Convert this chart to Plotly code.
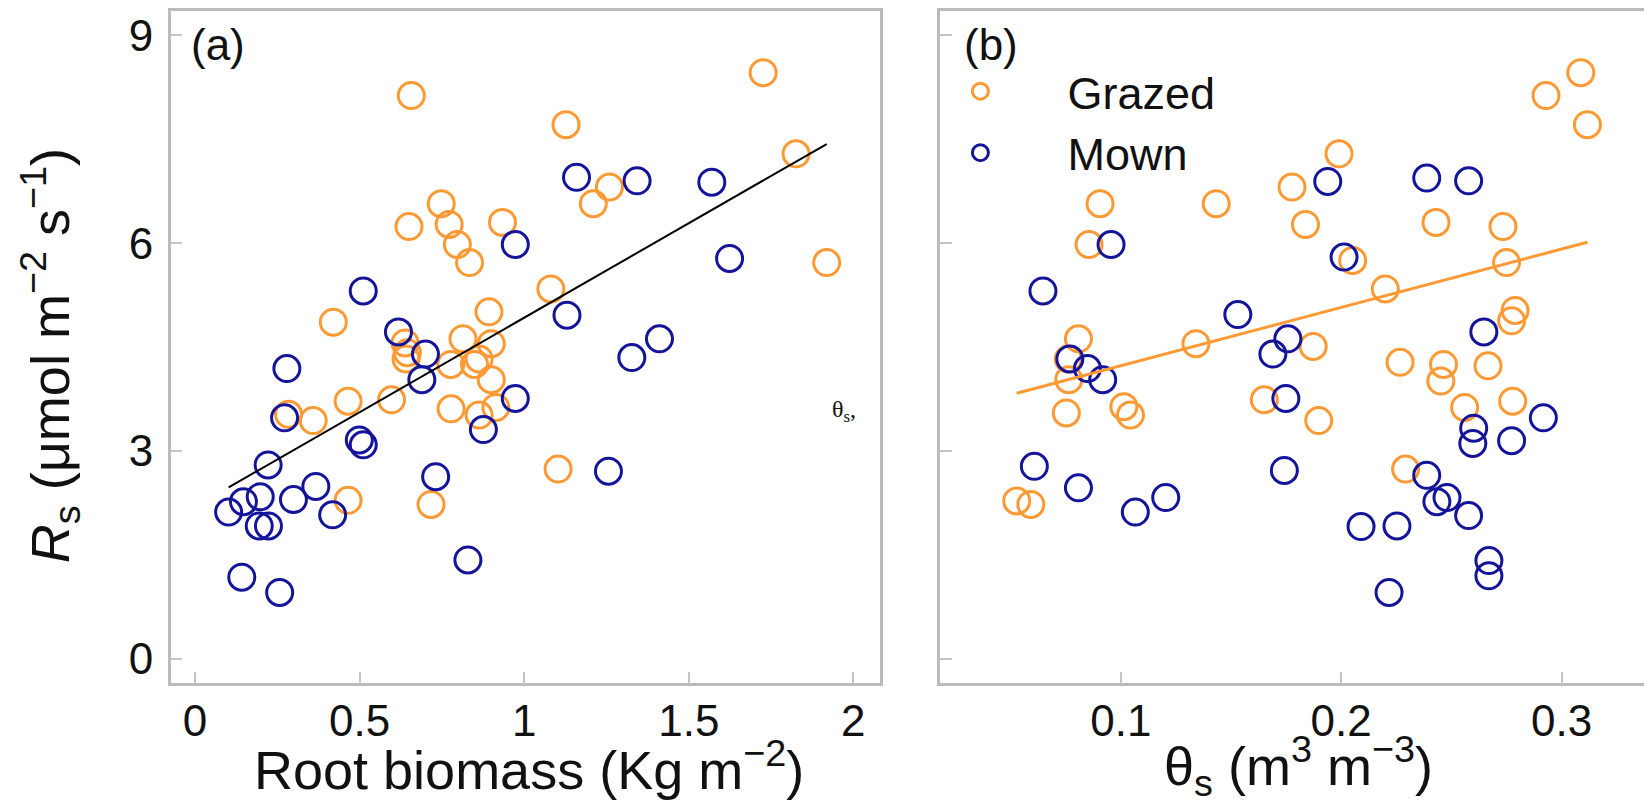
import numpy as np
import plotly.graph_objects as go

# ---------------- data ----------------
# Panel (a): root biomass (Kg m-2) vs Rs
rb_grazed = [0.657, 1.726, 1.127, 1.826, 1.259, 1.210, 0.748, 0.650, 0.772, 0.934,
             0.797, 0.834, 1.919, 1.081, 0.893, 0.420, 0.814, 0.638, 0.900, 0.641,
             0.777, 0.849, 0.863, 0.900, 0.645, 0.465, 0.597, 0.778, 0.284, 0.359,
             0.863, 0.914, 1.103, 0.465, 0.717]
rs_grazed_a = [8.13, 8.46, 7.71, 7.29, 6.81, 6.57, 6.57, 6.24, 6.27, 6.30,
               5.98, 5.72, 5.72, 5.34, 5.01, 4.86, 4.62, 4.56, 4.55, 4.33,
               4.25, 4.25, 4.33, 4.03, 4.42, 3.72, 3.74, 3.61, 3.53, 3.44,
               3.52, 3.63, 2.74, 2.29, 2.23]
rb_mown = [1.159, 1.343, 1.570, 0.973, 1.624, 0.511, 1.130, 0.618, 1.411, 1.327,
           0.700, 0.689, 0.279, 0.973, 0.272, 0.876, 0.499, 0.511, 0.222, 0.731,
           1.256, 0.367, 0.299, 0.418, 0.102, 0.147, 0.198, 0.195, 0.223, 0.829,
           0.142, 0.257]
rs_mown_a = [6.95, 6.90, 6.88, 5.98, 5.78, 5.31, 4.96, 4.72, 4.62, 4.35,
             4.40, 4.03, 4.19, 3.76, 3.48, 3.31, 3.16, 3.09, 2.80, 2.63,
             2.71, 2.49, 2.30, 2.08, 2.12, 2.27, 2.34, 1.92, 1.92, 1.43,
             1.18, 0.96]

# Panel (b): soil water content (m3 m-3) vs Rs
theta_grazed = [0.3087, 0.2929, 0.3117, 0.1990, 0.1777, 0.0906, 0.1433, 0.2430, 0.2734, 0.1838,
                0.0856, 0.2052, 0.2750, 0.2200, 0.2789, 0.2773, 0.0808, 0.1341, 0.1873, 0.0762,
                0.2267, 0.2464, 0.2666, 0.2452, 0.0764, 0.1651, 0.2560, 0.2778, 0.0753, 0.1014,
                0.1044, 0.1898, 0.2292, 0.0528, 0.0592]
rs_grazed_b = [8.46, 8.13, 7.71, 7.29, 6.81, 6.57, 6.57, 6.30, 6.24, 6.27,
               5.98, 5.75, 5.72, 5.34, 5.03, 4.88, 4.62, 4.55, 4.51, 4.33,
               4.28, 4.25, 4.23, 4.01, 4.03, 3.74, 3.63, 3.72, 3.55, 3.64,
               3.52, 3.44, 2.74, 2.28, 2.23]
theta_mown = [0.1939, 0.2388, 0.2578, 0.0956, 0.2013, 0.0647, 0.1531, 0.2647, 0.1758, 0.1690,
              0.0769, 0.0849, 0.0918, 0.1749, 0.2917, 0.2601, 0.2597, 0.2773, 0.0608, 0.1742,
              0.2388, 0.0808, 0.1204, 0.1066, 0.2434, 0.2480, 0.2578, 0.2090, 0.2253, 0.2670,
              0.2670, 0.2217]
rs_mown_b = [6.89, 6.94, 6.90, 5.98, 5.80, 5.31, 4.97, 4.72, 4.62, 4.40,
             4.33, 4.19, 4.03, 3.76, 3.48, 3.33, 3.11, 3.15, 2.78, 2.72,
             2.65, 2.47, 2.33, 2.12, 2.27, 2.33, 2.07, 1.91, 1.92, 1.42,
             1.20, 0.96]

xticks_a = [0, 0.5, 1, 1.5, 2]
xticklabels_a = ["0", "0.5", "1", "1.5", "2"]
xticks_b = [0.1, 0.2, 0.3]
xticklabels_b = ["0.1", "0.2", "0.3"]
yticks = [0, 3, 6, 9]
yticklabels = ["0", "3", "6", "9"]

# ---------------- styling ----------------
W, H = 1652, 801
OFF = 8  # page body margin: figure pixel p lands at screen pixel p + OFF
ORANGE = "#FF9933"
BLUE = "#14149B"
FONT = "Liberation Sans"
AXCOL = "#BBBBBB"

def px_x(p):
    return (p - OFF) / W

def px_y(p):
    return 1 - (p - OFF) / H

fig = go.Figure()

mk = dict(symbol="circle-open", size=26, line=dict(width=3))

fig.add_trace(go.Scatter(x=rb_grazed, y=rs_grazed_a, mode="markers",
                         marker=dict(color=ORANGE, **mk), showlegend=False,
                         xaxis="x", yaxis="y", name="Grazed"))
fig.add_trace(go.Scatter(x=rb_mown, y=rs_mown_a, mode="markers",
                         marker=dict(color=BLUE, **mk), showlegend=False,
                         xaxis="x", yaxis="y", name="Mown"))

# regression over all data in panel a
all_rb = np.array(rb_grazed + rb_mown)
all_rs = np.array(rs_grazed_a + rs_mown_a)
k_a, b_a = np.polyfit(all_rb, all_rs, 1)
xl_a = np.array([all_rb.min(), all_rb.max()])
fig.add_trace(go.Scatter(x=xl_a, y=k_a * xl_a + b_a, mode="lines",
                         line=dict(color="black", width=2), showlegend=False,
                         xaxis="x", yaxis="y"))

fig.add_trace(go.Scatter(x=theta_grazed, y=rs_grazed_b, mode="markers",
                         marker=dict(color=ORANGE, **mk), name="Grazed",
                         xaxis="x2", yaxis="y2"))
fig.add_trace(go.Scatter(x=theta_mown, y=rs_mown_b, mode="markers",
                         marker=dict(color=BLUE, **mk), name="Mown",
                         xaxis="x2", yaxis="y2"))

tg = np.array(theta_grazed)
k_b, b_b = np.polyfit(tg, np.array(rs_grazed_b), 1)
xl_b = np.array([tg.min(), tg.max()])
fig.add_trace(go.Scatter(x=xl_b, y=k_b * xl_b + b_b, mode="lines",
                         line=dict(color=ORANGE, width=3), showlegend=False,
                         xaxis="x2", yaxis="y2"))

axis_common = dict(showline=True, linecolor=AXCOL, linewidth=2.5, mirror=True,
                   ticks="inside", ticklen=12, tickwidth=2, tickcolor="#C4C4C4",
                   showgrid=False, zeroline=False,
                   tickfont=dict(family=FONT, size=44, color="#111111"))

ydom = [px_y(683), px_y(9)]
fig.update_layout(
    width=W, height=H,
    margin=dict(l=0, r=0, t=0, b=0),
    paper_bgcolor="white", plot_bgcolor="white",
    font=dict(family=FONT, color="#111111"),
    xaxis=dict(domain=[px_x(170.7), px_x(880)], range=[-0.074, 2.081],
               tickvals=xticks_a, ticktext=xticklabels_a, anchor="y",
               ticklabelstandoff=-3, **axis_common),
    yaxis=dict(domain=ydom, range=[-0.351, 9.35], tickvals=yticks,
               ticktext=yticklabels, anchor="x", ticklabelstandoff=6,
               **axis_common),
    xaxis2=dict(domain=[px_x(940), px_x(1650.7)], range=[0.018, 0.3404],
                tickvals=xticks_b, ticktext=xticklabels_b, anchor="y2",
                ticklabelstandoff=-3, **axis_common),
    yaxis2=dict(domain=ydom, range=[-0.351, 9.35], tickvals=yticks,
                showticklabels=False, anchor="x2", **axis_common),
    legend=dict(x=px_x(893.4), y=px_y(53.5), xanchor="left", yanchor="top",
                bgcolor="rgba(0,0,0,0)", borderwidth=0, itemwidth=164,
                font=dict(family=FONT, size=45, color="#111111"),
                tracegroupgap=0),
)

annotations = [
    dict(text="(a)", x=-0.018, y=8.86, xref="x", yref="y", xanchor="left",
         yanchor="middle", showarrow=False,
         font=dict(family=FONT, size=44, color="#111111")),
    dict(text="(b)", x=0.0278, y=8.86, xref="x2", yref="y2", xanchor="left",
         yanchor="middle", showarrow=False,
         font=dict(family=FONT, size=44, color="#111111")),
    dict(text="θ<sub>s</sub>,", x=1.971, y=3.58, xref="x", yref="y",
         xanchor="center", yanchor="middle", showarrow=False,
         font=dict(family="Liberation Serif", size=24, color="#111111")),
    dict(text="Root biomass (Kg m<sup>−2</sup>)", x=px_x(529), y=px_y(766),
         xref="paper", yref="paper", xanchor="center", yanchor="middle",
         showarrow=False, font=dict(family=FONT, size=54, color="#111111")),
    dict(text="θ<sub>s</sub> (m<sup>3</sup> m<sup>−3</sup>)", x=px_x(1298), y=px_y(766),
         xref="paper", yref="paper", xanchor="center", yanchor="middle",
         showarrow=False, font=dict(family=FONT, size=54, color="#111111")),
    dict(text="<i>R</i><sub>s</sub> (μmol m<sup>−2</sup> s<sup>−1</sup>)",
         x=px_x(50), y=px_y(355), xref="paper", yref="paper",
         xanchor="center", yanchor="middle", textangle=-90, showarrow=False,
         font=dict(family=FONT, size=54, color="#111111")),
]
fig.update_layout(annotations=annotations)

fig.write_html("out.html")
